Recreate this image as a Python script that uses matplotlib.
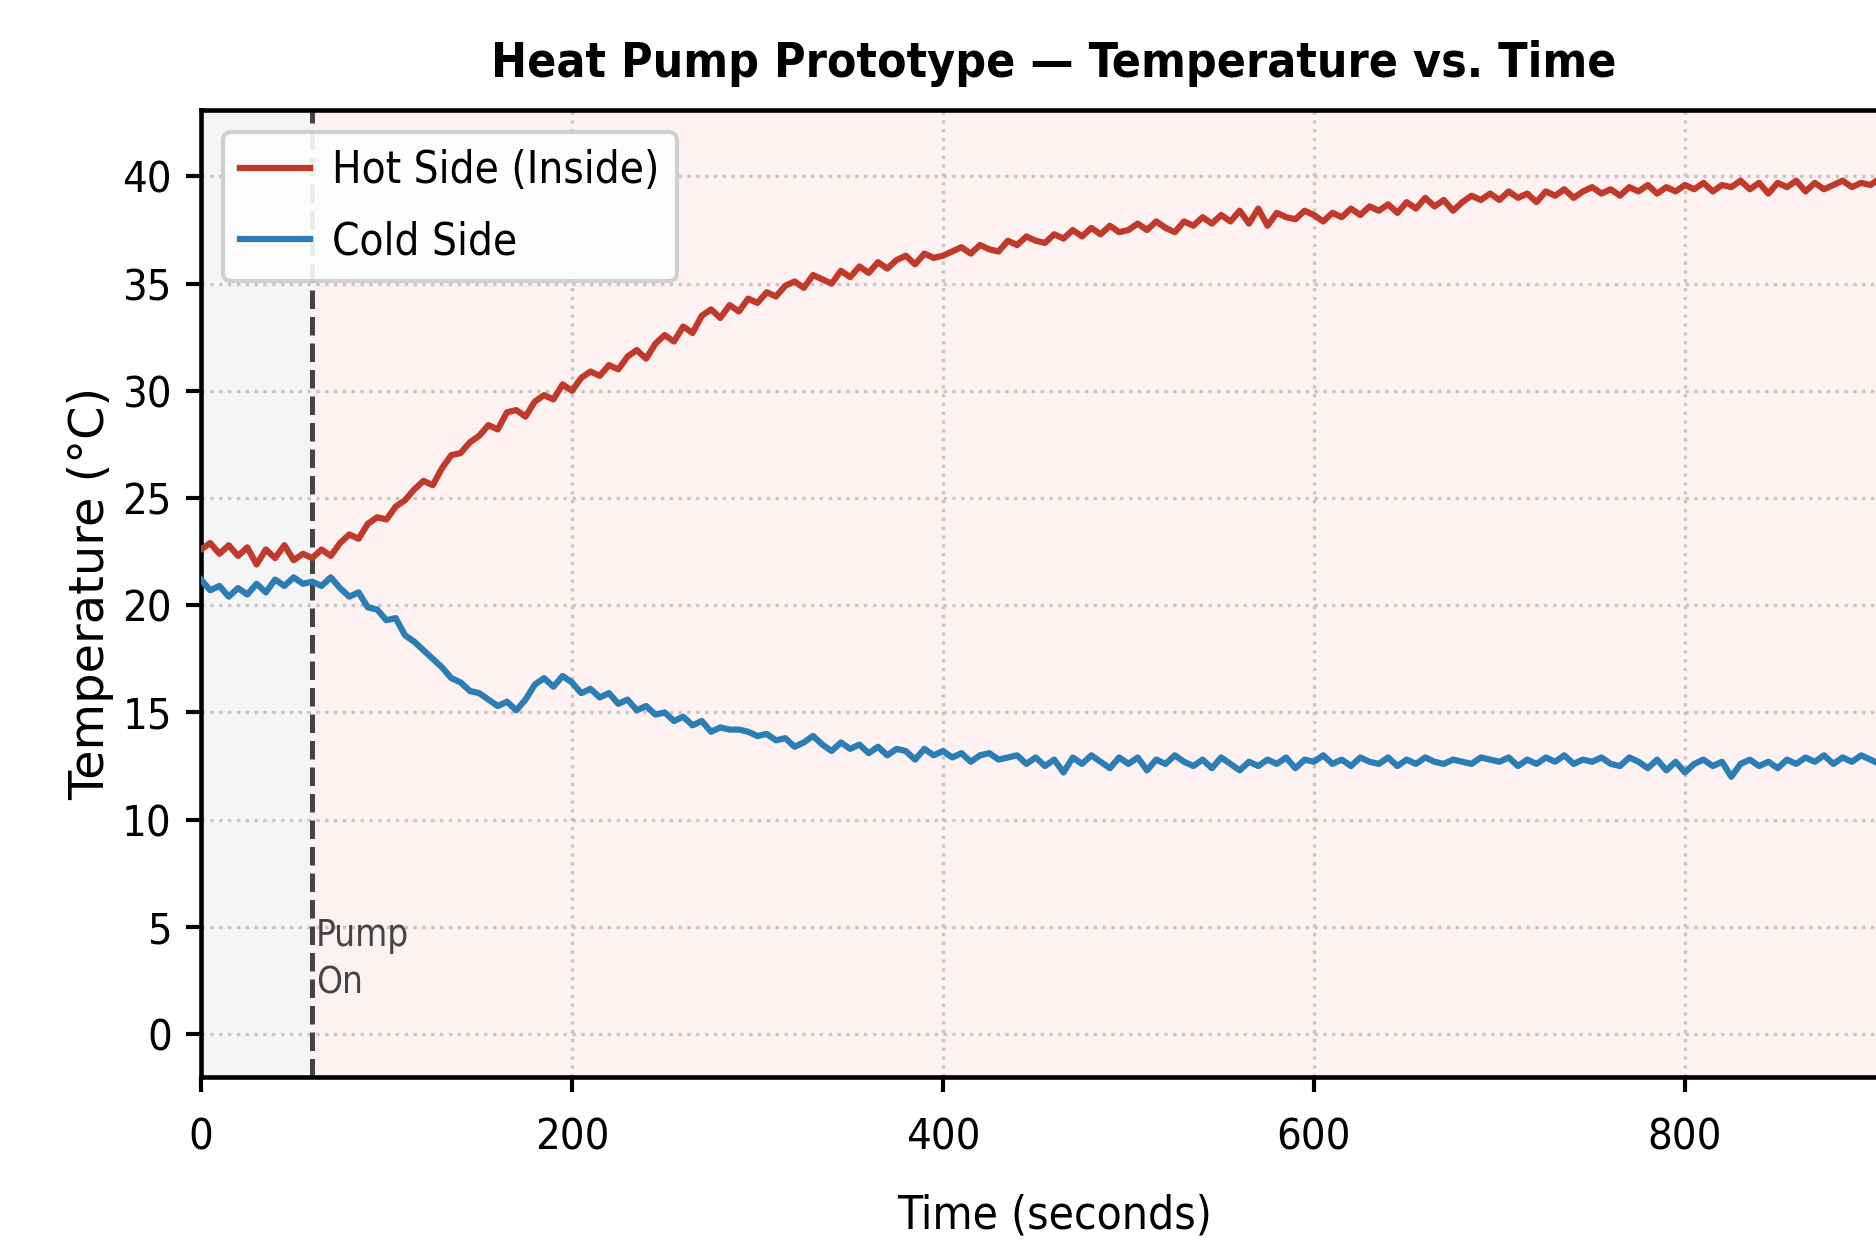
import numpy as np
import matplotlib
matplotlib.use('Agg')
import matplotlib.pyplot as plt

# sample times, every 5 s
time_s = np.arange(0, 925, 5)

hot_side = [
    22.6, 22.9, 22.4, 22.8, 22.3, 22.7, 21.9, 22.6, 22.2, 22.8,
    22.1, 22.4, 22.2, 22.6, 22.3, 22.9, 23.3, 23.1, 23.8, 24.1,
    24.0, 24.6, 24.9, 25.4, 25.8, 25.6, 26.4, 27.0, 27.1, 27.6,
    27.9, 28.4, 28.2, 29.0, 29.1, 28.8, 29.5, 29.8, 29.6, 30.3,
    30.0, 30.6, 30.9, 30.7, 31.2, 31.0, 31.6, 31.9, 31.5, 32.2,
    32.6, 32.3, 33.0, 32.7, 33.5, 33.8, 33.4, 34.0, 33.7, 34.3,
    34.1, 34.6, 34.4, 34.9, 35.1, 34.8, 35.4, 35.2, 35.0, 35.6,
    35.3, 35.8, 35.5, 36.0, 35.7, 36.1, 36.3, 35.9, 36.4, 36.2,
    36.3, 36.5, 36.7, 36.4, 36.8, 36.6, 36.5, 37.0, 36.8, 37.2,
    37.0, 36.9, 37.3, 37.1, 37.5, 37.2, 37.6, 37.3, 37.7, 37.4,
    37.5, 37.8, 37.5, 37.9, 37.6, 37.4, 37.9, 37.7, 38.1, 37.8,
    38.2, 37.9, 38.4, 37.8, 38.5, 37.7, 38.3, 38.1, 38.0, 38.4,
    38.2, 37.9, 38.3, 38.1, 38.5, 38.2, 38.6, 38.4, 38.7, 38.3,
    38.8, 38.5, 39.0, 38.6, 38.9, 38.4, 38.8, 39.1, 38.9, 39.2,
    38.9, 39.3, 39.0, 39.2, 38.8, 39.3, 39.1, 39.4, 39.0, 39.3,
    39.5, 39.2, 39.4, 39.1, 39.5, 39.3, 39.6, 39.2, 39.5, 39.3,
    39.6, 39.4, 39.7, 39.3, 39.6, 39.5, 39.8, 39.4, 39.7, 39.2,
    39.7, 39.5, 39.8, 39.3, 39.7, 39.4, 39.6, 39.8, 39.5, 39.7,
    39.6, 39.9, 39.5, 39.8, 39.6,
]

cold_side = [
    21.2, 20.7, 20.9, 20.4, 20.8, 20.5, 21.0, 20.6, 21.2, 20.9,
    21.3, 21.0, 21.1, 20.9, 21.3, 20.8, 20.4, 20.6, 19.9, 19.8,
    19.3, 19.4, 18.6, 18.3, 17.9, 17.5, 17.1, 16.6, 16.4, 16.0,
    15.9, 15.6, 15.3, 15.5, 15.1, 15.6, 16.3, 16.6, 16.2, 16.7,
    16.4, 15.9, 16.1, 15.7, 15.9, 15.4, 15.6, 15.1, 15.3, 14.9,
    15.0, 14.6, 14.8, 14.4, 14.6, 14.1, 14.3, 14.2, 14.2, 14.1,
    13.9, 14.0, 13.7, 13.8, 13.4, 13.6, 13.9, 13.5, 13.2, 13.6,
    13.3, 13.5, 13.1, 13.4, 13.0, 13.3, 13.2, 12.8, 13.3, 13.0,
    13.2, 12.9, 13.1, 12.7, 13.0, 13.1, 12.8, 12.9, 13.0, 12.6,
    12.9, 12.5, 12.8, 12.2, 12.9, 12.6, 13.0, 12.7, 12.4, 12.9,
    12.6, 12.9, 12.3, 12.8, 12.6, 13.0, 12.7, 12.5, 12.8, 12.4,
    12.9, 12.6, 12.3, 12.7, 12.5, 12.8, 12.6, 12.9, 12.4, 12.8,
    12.7, 13.0, 12.6, 12.8, 12.5, 12.9, 12.7, 12.6, 12.9, 12.5,
    12.8, 12.6, 12.9, 12.7, 12.6, 12.8, 12.7, 12.6, 12.9, 12.8,
    12.7, 12.9, 12.5, 12.8, 12.6, 12.9, 12.7, 13.0, 12.6, 12.8,
    12.7, 12.9, 12.6, 12.5, 12.9, 12.7, 12.4, 12.8, 12.3, 12.7,
    12.2, 12.6, 12.8, 12.5, 12.7, 12.0, 12.6, 12.8, 12.5, 12.7,
    12.4, 12.8, 12.6, 12.9, 12.7, 13.0, 12.6, 12.9, 12.7, 13.0,
    12.8, 12.6, 12.9, 12.7, 12.8,
]

pump_on_time = 60
x_ticks = [0, 200, 400, 600, 800]
y_ticks = [0, 5, 10, 15, 20, 25, 30, 35, 40]

plt.rcParams['font.family'] = ['DejaVu Sans']
plt.rcParams['font.stretch'] = 'condensed'

fig = plt.figure(figsize=(1876 / 300, 1241 / 300), dpi=300)
ax = fig.add_axes([0.1071, 0.1322, 0.9097, 0.7792])

ax.axvspan(0, pump_on_time, color='#f5f5f5', zorder=0)
ax.axvspan(pump_on_time, 1000, color='#fdf2f1', zorder=0)

ax.plot(time_s, hot_side, color='#c0392b', lw=1.5, label='Hot Side (Inside)', zorder=3)
ax.plot(time_s, cold_side, color='#2a7db5', lw=1.5, label='Cold Side', zorder=3)

ax.axvline(pump_on_time, color='#444444', ls='--', lw=1.2, zorder=2)
ax.text(pump_on_time + 2, 3.5, 'Pump\nOn', fontsize=8.8, color='#444444',
        va='center', ha='left', linespacing=1.35)

ax.set_xlim(0, 920)
ax.set_ylim(-2, 43.1)
ax.set_xticks(x_ticks)
ax.set_yticks(y_ticks)
ax.tick_params(labelsize=10.4, width=1)
ax.tick_params(axis='x', pad=6)
ax.grid(True, linestyle=':', color='#bbbbbb', lw=0.8, alpha=0.8, zorder=1)
for s in ax.spines.values():
    s.set_linewidth(1.1)

ax.set_xlabel('Time (seconds)', fontsize=11, labelpad=8.5)
ax.set_ylabel('Temperature (°C)', fontsize=11.5, fontstretch='normal', labelpad=2)
ax.set_title('Heat Pump Prototype — Temperature vs. Time', fontsize=11.5, fontweight='bold', pad=8)

ax.legend(loc='upper left', fontsize=10.5, handlelength=1.6, handletextpad=0.5,
          labelspacing=0.65, borderaxespad=0.5, framealpha=0.9,
          edgecolor='#cccccc', fancybox=True)

fig.savefig('out.png', dpi=300)
